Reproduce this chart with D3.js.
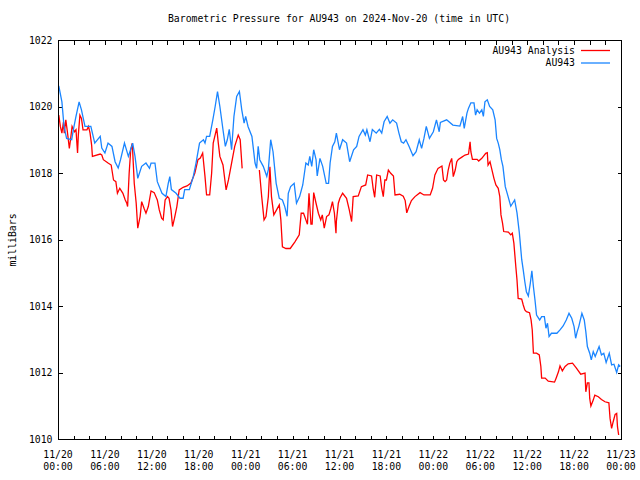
<!DOCTYPE html>
<html>
<head>
<meta charset="utf-8">
<script src="https://cdn.jsdelivr.net/npm/d3@7/dist/d3.min.js"></script>
<style>
  html, body { margin: 0; padding: 0; background: #fff; }
  svg { display: block; }
  text { font-family: "DejaVu Sans Mono", "Liberation Mono", monospace; font-size: 9.8px; fill: #000; }
</style>
</head>
<body>
<svg id="chart" width="640" height="480"></svg>
<script>
// ---- Data (hours since 2024-11-20 00:00 UTC, pressure in mbar) ----
const titleText = "Barometric Pressure for AU943 on 2024-Nov-20 (time in UTC)";
const yLabelText = "milliBars";
const seriesNames = ["AU943 Analysis", "AU943"];

const yTicks = [1010, 1012, 1014, 1016, 1018, 1020, 1022];
const xTickHours = [0, 6, 12, 18, 24, 30, 36, 42, 48, 54, 60, 66, 72];
const xTickDates = ["11/20", "11/20", "11/20", "11/20", "11/21", "11/21", "11/21", "11/21", "11/22", "11/22", "11/22", "11/22", "11/23"];
const xTickTimes = ["00:00", "06:00", "12:00", "18:00", "00:00", "06:00", "12:00", "18:00", "00:00", "06:00", "12:00", "18:00", "00:00"];

const analysisHours = [0.1,0.3,0.5,0.7,0.8,1.0,1.2,1.45,1.6,1.8,2.1,2.3,2.5,2.6,2.8,3.0,3.2,3.7,3.9,4.1,4.3,4.4,5.4,5.6,5.8,6.4,6.8,7.1,7.4,7.6,7.9,8.3,8.6,8.8,8.9,9.1,9.3,9.5,9.75,10.0,10.2,10.5,10.7,11.0,11.25,11.55,11.9,12.3,12.7,12.95,13.25,13.45,13.7,14.0,14.2,14.45,14.65,14.9,15.2,15.5,16.0,16.5,17.0,17.5,17.9,18.2,18.5,18.8,19.0,19.4,19.65,19.85,20.3,20.5,20.7,21.1,21.5,21.8,22.2,22.6,23.05,23.3,23.55,24.5,25.75,26.05,26.35,26.6,26.9,27.1,27.3,27.6,27.95,28.3,28.5,28.7,29.15,29.7,30.3,30.85,31.1,31.4,31.7,31.9,32.1,32.35,32.5,32.7,33.0,33.3,33.6,33.8,34.05,34.35,34.65,34.9,35.1,35.35,35.55,35.6,35.85,36.05,36.4,36.9,37.25,37.55,37.75,38.4,38.8,39.35,39.6,40.1,40.3,40.5,40.75,41.2,41.4,41.6,41.8,42.0,42.25,42.55,42.9,43.1,43.7,44.15,44.4,44.6,44.9,45.2,45.65,46.3,46.8,47.6,47.9,48.2,48.6,49.1,49.3,49.5,49.7,49.9,50.1,50.35,50.55,50.8,51.0,51.2,51.6,52.05,52.5,52.7,52.8,53.0,53.6,53.8,54.2,54.7,54.9,55.0,55.25,55.45,55.75,56.0,56.3,56.5,56.65,56.85,57.0,57.6,57.9,58.1,58.3,58.55,58.7,58.85,59.3,59.5,59.7,59.9,60.3,60.5,60.65,60.8,61.2,61.55,61.75,61.85,62.3,62.7,63.5,63.7,64.0,64.2,64.5,64.85,65.25,65.8,66.3,66.85,67.4,67.5,67.7,67.9,68.0,68.15,68.45,68.65,69.1,69.5,69.95,70.45,70.6,70.8,71.0,71.25,71.45,71.55,71.7];
const analysisValues = [1019.74,1019.4,1019.2,1019.54,1019.2,1019.6,1019.24,1018.74,1019.0,1019.4,1019.24,1019.3,1018.6,1019.14,1019.74,1019.64,1019.3,1019.3,1019.4,1019.2,1018.84,1018.5,1018.57,1018.54,1018.4,1018.3,1018.24,1017.79,1017.74,1017.39,1017.54,1017.39,1017.19,1017.09,1016.99,1017.99,1018.69,1018.9,1017.69,1017.09,1016.34,1016.69,1017.14,1016.94,1016.79,1016.99,1017.46,1017.41,1017.19,1016.89,1016.64,1016.59,1017.19,1017.29,1017.24,1016.89,1016.39,1016.64,1016.99,1017.49,1017.57,1017.61,1017.7,1018.0,1018.4,1018.45,1018.6,1017.89,1017.34,1017.34,1018.0,1018.9,1019.35,1018.9,1018.5,1018.24,1017.49,1017.79,1018.3,1018.8,1019.14,1019.0,1018.14,null,1018.09,1017.29,1016.59,1016.69,1017.29,1018.19,1017.29,1016.74,1016.89,1017.04,1016.59,1015.78,1015.73,1015.73,1015.93,1016.14,1016.79,1016.79,1016.59,1016.46,1017.39,1016.46,1016.46,1017.41,1017.09,1016.79,1016.59,1016.74,1016.34,1016.69,1016.74,1016.94,1017.14,1016.79,1016.19,1016.54,1017.09,1017.24,1017.39,1017.24,1016.89,1016.54,1017.29,1017.31,1017.59,1017.64,1017.94,1017.91,1017.54,1017.27,1017.94,1017.91,1017.54,1017.29,1017.79,1017.79,1018.09,1017.99,1017.91,1017.34,1017.36,1017.3,1017.17,1016.8,1017.0,1017.17,1017.29,1017.41,1017.34,1017.34,1017.54,1017.94,1018.14,1018.21,1017.79,1017.74,1017.79,1018.09,1018.29,1018.44,1017.89,1018.09,1018.34,1018.41,1018.47,1018.54,1018.57,1018.94,1018.64,1018.41,1018.41,1018.36,1018.44,1018.59,1018.61,1018.24,1018.34,1018.14,1017.84,1017.64,1017.54,1017.29,1016.74,1016.49,1016.24,1016.22,1016.14,1016.19,1015.89,1015.18,1014.78,1014.23,1014.21,1014.03,1013.88,1013.83,1013.8,1013.58,1013.28,1012.58,1012.58,1012.53,1012.18,1011.83,1011.83,1011.74,1011.71,1011.83,1012.02,1012.2,1012.05,1012.18,1012.26,1012.28,1012.13,1011.95,1011.98,1011.42,1011.69,1011.69,1011.22,1010.99,1011.17,1011.32,1011.27,1011.19,1011.12,1011.09,1010.62,1010.32,1010.52,1010.74,1010.77,1010.37,1010.12];

const au943Hours = [0.1,0.5,0.77,1.1,1.75,1.96,2.3,2.7,3.0,3.45,4.2,4.7,5.4,5.6,6.0,6.4,6.9,7.3,7.7,8.0,8.5,9.0,9.55,9.85,10.2,10.7,11.25,11.7,11.9,12.4,12.7,13.3,13.8,14.1,14.3,14.5,15.1,15.6,16.0,16.2,16.8,17.3,17.65,18.1,18.6,18.8,19.0,19.4,19.8,20.1,20.4,20.7,21.1,21.4,21.65,21.9,22.2,22.5,22.85,23.2,23.5,23.8,24.0,24.3,24.8,25.2,25.4,25.6,25.8,26.25,26.7,26.9,27.2,27.5,27.9,28.3,28.7,29.0,29.3,29.45,29.75,30.2,30.5,30.9,31.3,31.7,32.0,32.2,32.45,32.7,33.0,33.15,33.5,33.85,34.3,34.6,34.8,35.1,35.4,35.6,36.0,36.4,36.9,37.3,37.8,38.2,38.5,39.0,39.3,39.5,39.9,40.2,40.7,41.1,41.4,41.7,42.1,42.45,42.8,43.3,43.6,43.9,44.2,44.5,44.9,45.4,45.8,46.2,46.5,46.8,47.1,47.5,48.0,48.4,48.75,48.9,49.7,50.5,51.4,51.75,51.95,52.3,52.5,52.8,53.2,53.4,53.6,53.9,54.2,54.4,54.6,54.9,55.2,55.6,55.9,56.1,56.3,56.5,56.7,56.9,57.2,57.5,57.9,58.4,58.7,59.0,59.3,59.5,59.7,59.9,60.15,60.4,60.6,60.8,61.0,61.2,61.6,61.85,62.2,62.4,62.6,62.8,63.1,63.8,64.2,64.6,65.0,65.35,65.7,66.0,66.2,66.4,66.6,67.0,67.3,67.5,67.7,68.0,68.2,68.45,68.7,69.2,69.5,69.8,70.1,70.5,70.8,71.1,71.45,71.7,71.9];
const au943Values = [1020.62,1020.14,1019.4,1019.04,1019.0,1019.3,1019.7,1020.14,1019.9,1019.4,1019.4,1018.9,1019.1,1018.75,1018.6,1018.9,1018.8,1018.34,1018.15,1018.4,1018.9,1018.5,1018.9,1018.5,1017.84,1018.2,1018.3,1018.14,1018.3,1018.3,1017.74,1017.39,1017.29,1017.69,1017.89,1017.5,1017.39,1017.24,1017.24,1017.5,1017.5,1017.89,1018.3,1018.9,1019.0,1018.9,1019.1,1019.1,1019.6,1020.0,1020.45,1020.0,1019.3,1018.8,1019.0,1019.31,1018.7,1019.7,1020.3,1020.45,1019.9,1019.5,1019.7,1019.4,1019.1,1018.3,1018.14,1018.8,1018.4,1018.2,1017.9,1018.1,1019.0,1018.64,1017.69,1017.24,1017.19,1016.99,1016.7,1017.39,1017.59,1017.69,1017.09,1017.29,1017.64,1018.3,1018.24,1018.5,1018.2,1018.7,1018.4,1017.91,1018.44,1018.2,1017.69,1017.69,1018.3,1018.8,1018.94,1019.2,1018.7,1019.0,1018.9,1018.34,1018.7,1018.8,1019.1,1019.3,1019.14,1019.3,1018.94,1019.31,1019.2,1019.31,1019.2,1019.54,1019.7,1019.5,1019.6,1019.5,1019.2,1018.94,1018.9,1019.0,1018.8,1018.52,1018.64,1019.0,1018.74,1019.04,1019.4,1019.04,1019.24,1019.6,1019.24,1019.52,1019.6,1019.44,1019.41,1019.7,1019.34,1019.8,1019.95,1020.11,1020.11,1019.74,1019.9,1019.8,1019.9,1019.7,1020.14,1020.2,1020.0,1019.9,1019.6,1019.04,1018.9,1018.7,1018.4,1018.2,1017.59,1017.34,1017.0,1017.19,1016.8,1016.2,1015.4,1015.08,1014.73,1014.43,1014.3,1014.68,1015.06,1014.58,1014.18,1013.73,1013.58,1013.68,1013.68,1013.33,1013.48,1013.08,1013.18,1013.18,1013.28,1013.4,1013.58,1013.78,1013.63,1013.38,1013.03,1013.23,1013.38,1013.78,1013.58,1013.23,1012.78,1012.58,1012.38,1012.63,1012.48,1012.78,1012.53,1012.58,1012.3,1012.58,1012.23,1012.25,1012.0,1012.23,1012.18];

const seriesColors = ["#ff0000", "#1a85ff"];

// ---- Layout ----
const W = 640, H = 480;
const plot = { left: 58, right: 621, top: 40, bottom: 439 };

const svg = d3.select("#chart");

const x = d3.scaleLinear().domain([0, 72]).range([plot.left, plot.right]);
const y = d3.scaleLinear().domain([1010, 1022]).range([plot.bottom, plot.top]);

// Title
svg.append("text")
  .attr("x", 339).attr("y", 19)
  .attr("text-anchor", "middle").attr("dominant-baseline", "middle")
  .text(titleText);

// Y label
svg.append("text")
  .attr("transform", "translate(13,240) rotate(-90)")
  .attr("text-anchor", "middle").attr("dominant-baseline", "middle")
  .text(yLabelText);

const tickLen = 4;
const minorHours = d3.range(0, 73, 2);

// Bottom axis (inward ticks)
const xAxisBottom = d3.axisBottom(x).tickValues(minorHours).tickSize(-tickLen).tickSizeOuter(0).tickFormat("");
svg.append("g").attr("transform", `translate(0,${plot.bottom + 0.5})`).call(xAxisBottom)
  .call(g => g.select(".domain").remove())
  .selectAll("line").attr("stroke", "#000").attr("shape-rendering", "crispEdges");
// Top axis mirror
const xAxisTop = d3.axisTop(x).tickValues(minorHours).tickSize(-tickLen).tickSizeOuter(0).tickFormat("");
svg.append("g").attr("transform", `translate(0,${plot.top + 0.5})`).call(xAxisTop)
  .call(g => g.select(".domain").remove())
  .selectAll("line").attr("stroke", "#000").attr("shape-rendering", "crispEdges");

// X labels (two lines)
const xl = svg.append("g");
xTickHours.forEach((h, i) => {
  const t = xl.append("text").attr("x", x(h)).attr("text-anchor", "middle");
  t.append("tspan").attr("x", x(h)).attr("y", 458).text(xTickDates[i]);
  t.append("tspan").attr("x", x(h)).attr("y", 470).text(xTickTimes[i]);
});

// Left axis
const yAxisLeft = d3.axisLeft(y).tickValues(yTicks).tickSize(-tickLen).tickSizeOuter(0).tickPadding(10).tickFormat(d3.format("d"));
const gl = svg.append("g").attr("transform", `translate(${plot.left + 0.5},0)`).call(yAxisLeft);
gl.select(".domain").remove();
gl.selectAll("line").attr("stroke", "#000").attr("shape-rendering", "crispEdges");
gl.selectAll("text").attr("font-family", null).attr("font-size", null).attr("fill", "#000").attr("dy", "0.35em").attr("x", -6);

// Right axis mirror
const yAxisRight = d3.axisRight(y).tickValues(yTicks).tickSize(-tickLen).tickSizeOuter(0).tickFormat("");
const gr = svg.append("g").attr("transform", `translate(${plot.right + 0.5},0)`).call(yAxisRight);
gr.select(".domain").remove();
gr.selectAll("line").attr("stroke", "#000").attr("shape-rendering", "crispEdges");

// Series lines
const clip = svg.append("clipPath").attr("id", "clip").append("rect")
  .attr("x", plot.left).attr("y", plot.top).attr("width", plot.right - plot.left).attr("height", plot.bottom - plot.top);

const line = d3.line().defined(d => d[1] !== null).x(d => x(d[0])).y(d => y(d[1]));
const seriesData = [
  analysisHours.map((h, i) => [h, analysisValues[i]]),
  au943Hours.map((h, i) => [h, au943Values[i]])
];

// draw blue first then red? In reference red appears drawn first, blue over it
[0, 1].forEach(k => {
  svg.append("path")
    .datum(seriesData[k])
    .attr("clip-path", "url(#clip)")
    .attr("fill", "none")
    .attr("stroke", seriesColors[k])
    .attr("stroke-width", 1.3)
    .attr("stroke-linejoin", "miter")
    .attr("d", line);
});

// Border
svg.append("rect")
  .attr("x", plot.left + 0.5).attr("y", plot.top + 0.5)
  .attr("width", plot.right - plot.left).attr("height", plot.bottom - plot.top)
  .attr("fill", "none").attr("stroke", "#000").attr("stroke-width", 1)
  .attr("shape-rendering", "crispEdges");

// Legend
const legend = svg.append("g");
seriesNames.forEach((name, i) => {
  const ly = 50.5 + i * 12.5;
  legend.append("text").attr("x", 575).attr("y", ly)
    .attr("text-anchor", "end").attr("dominant-baseline", "middle").text(name);
  legend.append("line").attr("x1", 581).attr("x2", 610).attr("y1", ly).attr("y2", ly)
    .attr("stroke", seriesColors[i]).attr("stroke-width", 1.3);
});
</script>
</body>
</html>
